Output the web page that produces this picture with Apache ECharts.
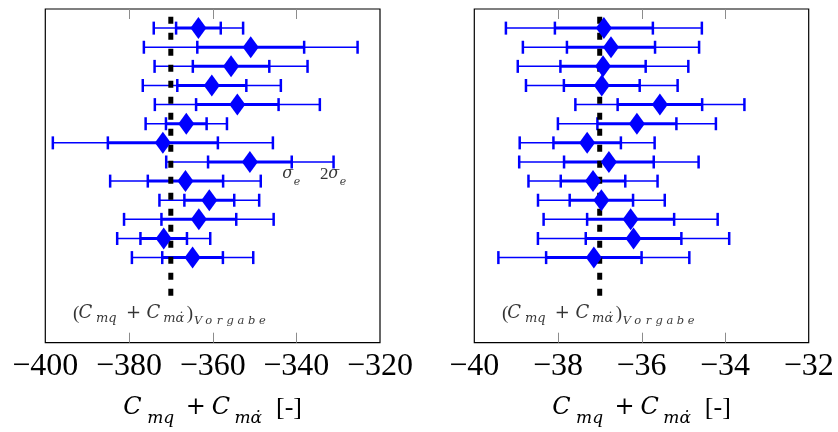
<!DOCTYPE html>
<html>
<head>
<meta charset="utf-8">
<script src="https://cdn.jsdelivr.net/npm/echarts@6/dist/echarts.min.js"></script>
<style>
  html, body { margin: 0; padding: 0; background: #fff; }
  #chart { width: 838px; height: 432px; }
</style>
</head>
<body>
<div id="chart"></div>
<script>
// Estimated coefficient C_mq + C_mα̇ per run, with its standard deviation σ_e.
// Rows are numbered from the top (1) to the bottom (13).
const rows = [1, 2, 3, 4, 5, 6, 7, 8, 9, 10, 11, 12, 13];

// Left panel
const leftMean  = [-363.4, -350.9, -355.6, -360.2, -354.1, -366.3, -371.9, -351.1, -366.5, -360.8, -363.3, -371.7, -364.8];
const leftSigma = [5.34, 12.77, 9.14, 8.25, 9.86, 4.86, 13.15, 10.0, 9.0, 5.96, 8.94, 5.56, 7.25];

// Right panel
const rightMean  = [-36.90, -36.73, -36.92, -36.95, -35.56, -36.11, -37.30, -36.78, -37.16, -36.96, -36.26, -36.19, -37.14];
const rightSigma = [1.172, 1.054, 1.02, 0.907, 1.011, 0.945, 0.807, 1.073, 0.772, 0.758, 1.041, 1.144, 1.142];

// Prescribed value (Vorgabe) for each panel
const refValue = [-370, -37];

// Axis ranges: [min, max, interval] and the inner tick marks on the frame
const leftAxis  = [-400, -320, 20];
const rightAxis = [-40, -32, 2];
const leftTicks  = [-380, -360, -340];
const rightTicks = [-38, -36, -34];

// Vertical extent of the panels (row units, top to bottom)
const yRange = [0, 17.45];

// Row of the σ_e / 2σ_e annotation (left panel)
const noteRow = 8;

const GRID_H = 333.7;          // plot height in px
const TICK_PX = 10;            // inner tick length in px

const BLUE = '#0000ff';
const TICK_COLOR = '#8c8c8c';
const SERIF = '"Liberation Serif", "DejaVu Serif", serif';
const MATH = '"DejaVu Serif", serif';

function minus(v) { return String(v).replace('-', '\u2212'); }

// text style helper for rich-text tokens
function tok(size, opts) {
  return Object.assign({ fontFamily: MATH, fontSize: size, color: '#000' }, opts || {});
}
const IT = 'italic';

// x-axis title  C_mq + C_mα̇ [-]
const nameRich = {
  C:  tok(24, { fontStyle: IT }),
  s1: tok(17, { fontStyle: IT, width: 38, padding: [20, 0, 0, 0] }),
  s2: tok(17, { fontStyle: IT, width: 36.3, padding: [20, 0, 0, 0] }),
  p:  tok(24, { width: 32, align: 'center' }),
  b:  tok(26, { fontFamily: SERIF, width: 35.6, align: 'right' })
};
const axisName = '{C|C}{s1|mq}{p|+}{C|C}{s2|m\u03B1\u0307}{b|[-]}';

// annotation  (C_mq + C_mα̇)_Vorgabe
const refRich = {
  o:  tok(19, { fontFamily: SERIF, width: 4.5 }),
  C:  tok(18, { fontStyle: IT }),
  s1: tok(13, { fontStyle: IT, width: 28.3, padding: [9.6, 0, 0, 0] }),
  s2: tok(13, { fontStyle: IT, width: 27, padding: [9.6, 0, 0, 0] }),
  p:  tok(18, { width: 26, align: 'center' }),
  c:  tok(19, { fontFamily: SERIF, width: 5.5 }),
  v:  tok(11.5, { fontStyle: IT, width: 10.7, padding: [14.8, 0, 0, 0] })
};
const refText = '{o|(}{C|C}{s1|mq}{p|+}{C|C}{s2|m\u03B1\u0307}{c|)}' +
  'Vorgabe'.split('').map(ch => '{v|' + ch + '}').join('');

// annotation  σ_e  and  2σ_e
const sigRich = {
  s:  tok(16, { fontStyle: IT, width: 10.5 }),
  d:  tok(17, { fontFamily: SERIF, width: 8.5 }),
  e:  tok(11, { fontStyle: IT, width: 8, padding: [16, 0, 0, 0] })
};

// Horizontal error bars: thin line to ±2σ, thick line to ±σ, caps at each end
function errorBar(params, api) {
  const c = api.value(0), s = api.value(1), row = api.value(2);
  const pt = x => api.coord([x, row]);
  const a2 = pt(c - 2 * s), a1 = pt(c - s), b1 = pt(c + s), b2 = pt(c + 2 * s);
  const y = a2[1];
  const cap = 6.5;
  const style = w => ({ stroke: BLUE, lineWidth: w, lineCap: 'butt' });
  const capLine = x => ({ type: 'line', shape: { x1: x, y1: y - cap, x2: x, y2: y + cap }, style: style(2.5) });
  return {
    type: 'group',
    children: [
      { type: 'line', shape: { x1: a2[0], y1: y, x2: b2[0], y2: y }, style: style(1.5) },
      { type: 'line', shape: { x1: a1[0], y1: y, x2: b1[0], y2: y }, style: style(3) },
      capLine(a2[0]), capLine(a1[0]), capLine(b1[0]), capLine(b2[0])
    ]
  };
}

// Inner frame ticks: a short grey mark down from the top edge and up from the bottom edge
function frameTick(params, api) {
  const v = api.value(0);
  const top = api.coord([v, yRange[0]]);
  const bot = api.coord([v, yRange[1]]);
  const x = Math.round(top[0]) + 0.5;
  const st = () => ({ stroke: TICK_COLOR, lineWidth: 1, lineCap: 'butt' });
  return {
    type: 'group',
    children: [
      { type: 'line', shape: { x1: x, y1: top[1], x2: x, y2: top[1] + TICK_PX }, style: st() },
      { type: 'line', shape: { x1: x, y1: bot[1] - TICK_PX, x2: x, y2: bot[1] }, style: st() }
    ]
  };
}

function panelSeries(idx, mean, sigma, ticks) {
  const barData = mean.map((m, i) => [m, sigma[i], rows[i]]);
  const pointData = mean.map((m, i) => [m, rows[i]]);
  return [
    {
      type: 'custom', xAxisIndex: idx, yAxisIndex: idx,
      renderItem: frameTick, data: ticks.map(t => [t, 0, 1]), z: 2, silent: true,
      encode: { x: 0, y: 2 }
    },
    {
      type: 'custom', xAxisIndex: idx, yAxisIndex: idx,
      renderItem: errorBar, data: barData, z: 2, silent: true,
      encode: { x: 0, y: 2 }
    },
    {
      type: 'line', xAxisIndex: idx, yAxisIndex: idx,
      data: [[refValue[idx], 0.4], [refValue[idx], 15.01]],
      symbol: 'none', z: 3, silent: true,
      lineStyle: { color: '#000', width: 5, type: [7, 9], cap: 'butt' }
    },
    {
      type: 'scatter', xAxisIndex: idx, yAxisIndex: idx,
      data: pointData, symbol: 'diamond', symbolSize: [16, 22], z: 4, silent: true,
      itemStyle: { color: BLUE, opacity: 1 }
    },
    {
      type: 'scatter', xAxisIndex: idx, yAxisIndex: idx,
      data: [[refValue[idx], 15.93]], symbolSize: 0, z: 5, silent: true,
      label: { show: true, position: 'inside', formatter: refText, rich: refRich }
    }
  ];
}

function xAxis(idx, range) {
  return {
    type: 'value', gridIndex: idx, min: range[0], max: range[1], interval: range[2],
    position: 'bottom',
    splitLine: { show: false },
    axisLine: { show: false, onZero: false },
    axisTick: { show: false },
    axisLabel: {
      show: true, margin: 8, formatter: minus,
      fontFamily: SERIF, fontSize: 32, color: '#000'
    },
    name: axisName, nameLocation: 'middle', nameGap: 47,
    nameTextStyle: { rich: nameRich }
  };
}

function yAxis(idx) {
  return {
    type: 'value', gridIndex: idx, min: yRange[0], max: yRange[1], inverse: true,
    axisLine: { show: false, onZero: false }, axisTick: { show: false },
    axisLabel: { show: false }, splitLine: { show: false }
  };
}

const sigSeries = {
  type: 'scatter', xAxisIndex: 0, yAxisIndex: 0, silent: true, symbolSize: 0, z: 5,
  data: [
    { value: [leftMean[noteRow - 1] + leftSigma[noteRow - 1], noteRow + 0.64], name: 's1' },
    { value: [leftMean[noteRow - 1] + 2 * leftSigma[noteRow - 1], noteRow + 0.64], name: 's2' }
  ],
  label: {
    show: true, position: 'inside', rich: sigRich,
    formatter: p => p.name === 's1' ? '{s|\u03C3}{e|e}' : '{d|2}{s|\u03C3}{e|e}'
  }
};

const chart = echarts.init(document.getElementById('chart'), null, { renderer: 'canvas' });
chart.setOption({
  backgroundColor: '#fff',
  animation: false,
  grid: [
    { left: 45.3, top: 9, width: 334.7, height: GRID_H, show: true, borderColor: '#000', borderWidth: 1.2, backgroundColor: 'transparent' },
    { left: 474.3, top: 9, width: 334.4, height: GRID_H, show: true, borderColor: '#000', borderWidth: 1.2, backgroundColor: 'transparent' }
  ],
  xAxis: [xAxis(0, leftAxis), xAxis(1, rightAxis)],
  yAxis: [yAxis(0), yAxis(1)],
  series: [].concat(
    panelSeries(0, leftMean, leftSigma, leftTicks),
    panelSeries(1, rightMean, rightSigma, rightTicks),
    [sigSeries]
  )
});
</script>
</body>
</html>
